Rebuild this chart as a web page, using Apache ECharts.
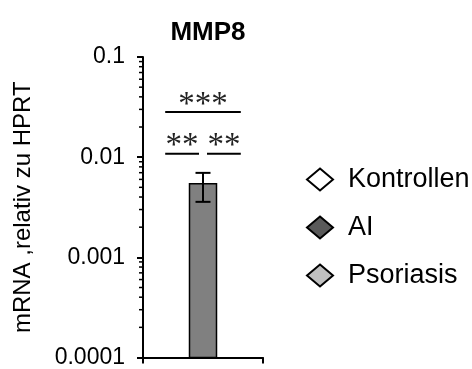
<!DOCTYPE html>
<html>
<head>
<meta charset="utf-8">
<script src="https://cdn.jsdelivr.net/npm/echarts@6/dist/echarts.min.js"></script>
<style>html,body{margin:0;padding:0;background:#fff}#c{width:472px;height:369px}</style>
</head>
<body>
<div id="c"></div>
<script>
// ---- data ----
var categories = [''];
var seriesNames = ['Kontrollen', 'AI', 'Psoriasis'];
var kontrollenValues = [null];
var aiValues = [0.00542];
var psoriasisValues = [null];
var aiErrLow = [0.00358];
var aiErrHigh = [0.00697];
var yTickLabels = ['0.0001', '0.001', '0.01', '0.1'];
var yTickValues = [0.0001, 0.001, 0.01, 0.1];
var minorTickValues = [0.0002,0.0003,0.0004,0.0005,0.0006,0.0007,0.0008,0.0009,
  0.002,0.003,0.004,0.005,0.006,0.007,0.008,0.009,
  0.02,0.03,0.04,0.05,0.06,0.07,0.08,0.09];
// significance brackets
var sigLabels = ['***', '**', '**'];
var sigFrom = [0, 0, 1];
var sigTo = [2, 1, 2];
var sigLineValues = [0.0283, 0.0108, 0.0108];

var Y_MIN = 0.0001, Y_MAX = 0.1;
var BAR_W = 27, BAR_GAP = 0.4;
var SPACING = BAR_W * (1 + BAR_GAP);
var FONT = 'Liberation Sans, Arial, sans-serif';
var barColors = ['#ffffff', '#808080', '#c0c0c0'];
var legendColors = ['#ffffff', '#5a5a5a', '#c0c0c0'];
var seriesValues = [kontrollenValues, aiValues, psoriasisValues];

var chart = echarts.init(document.getElementById('c'), null, {renderer: 'canvas'});

function barSeries(k) {
  return {
    type: 'custom', name: seriesNames[k], z: 2,
    itemStyle: {color: barColors[k], borderColor: '#000', borderWidth: 1.5},
    data: seriesValues[k].map(function (v, i) { return v == null ? [i, '-'] : [i, v]; }),
    renderItem: function (params, api) {
      var v = api.value(1);
      if (v == null || isNaN(v)) return null;
      var top = api.coord([api.value(0), v]);
      var base = api.coord([api.value(0), Y_MIN]);
      var cx = top[0] + (k - 1) * SPACING;
      return {type: 'rect',
        shape: {x: cx - BAR_W / 2, y: top[1], width: BAR_W, height: base[1] - top[1]},
        style: {fill: barColors[k], stroke: '#000', lineWidth: 1.5}};
    }
  };
}

var option = {
  animation: false,
  backgroundColor: '#fff',
  title: {
    text: 'MMP8', left: 203, top: 15, textAlign: 'center',
    textStyle: {fontFamily: FONT, fontWeight: 'bold', fontSize: 26, color: '#000'}
  },
  legend: {
    orient: 'vertical', left: 301, top: 161,
    itemWidth: 26, itemHeight: 22, itemGap: 21,
    icon: 'diamond',
    textStyle: {fontFamily: FONT, fontSize: 27, color: '#000', padding: [0, 0, 0, 10]},
    data: seriesNames.map(function (n, k) {
      return {name: n, itemStyle: {color: legendColors[k], borderColor: '#000', borderWidth: 2}};
    })
  },
  grid: {left: 143, top: 57, width: 120, height: 301},
  xAxis: {
    type: 'category', data: categories,
    axisLine: {lineStyle: {color: '#000', width: 2}},
    axisTick: {show: true, length: 6, lineStyle: {color: '#000', width: 2}},
    axisLabel: {show: false}
  },
  yAxis: {
    type: 'log', logBase: 10, min: Y_MIN, max: Y_MAX,
    name: 'mRNA ,relativ zu HPRT', nameLocation: 'middle', nameGap: 108,
    nameTextStyle: {fontFamily: FONT, fontSize: 24, color: '#000'},
    axisLine: {show: true, lineStyle: {color: '#000', width: 2}},
    axisTick: {show: true, length: 6, lineStyle: {color: '#000', width: 2}},
    splitLine: {show: false},
    axisLabel: {
      margin: 18, fontFamily: FONT, fontSize: 23, color: '#000',
      formatter: function (v) {
        for (var i = 0; i < yTickValues.length; i++) {
          if (Math.abs(Math.log10(v) - Math.log10(yTickValues[i])) < 1e-6) return yTickLabels[i];
        }
        return '';
      }
    }
  },
  series: [
    barSeries(0), barSeries(1), barSeries(2),
    {
      type: 'custom', name: 'err', silent: true, z: 5,
      data: aiValues.map(function (v, i) { return [i, aiErrLow[i], aiErrHigh[i]]; }),
      renderItem: function (params, api) {
        var lo = api.coord([api.value(0), api.value(1)]);
        var hi = api.coord([api.value(0), api.value(2)]);
        var x = lo[0], cw = 7.5;
        var st = {stroke: '#000', lineWidth: 2};
        return {type: 'group', children: [
          {type: 'line', shape: {x1: x, y1: lo[1], x2: x, y2: hi[1]}, style: st},
          {type: 'line', shape: {x1: x - cw, y1: lo[1], x2: x + cw, y2: lo[1]}, style: st},
          {type: 'line', shape: {x1: x - cw, y1: hi[1], x2: x + cw, y2: hi[1]}, style: st}
        ]};
      }
    },
    {
      type: 'custom', name: 'sig', silent: true, z: 5,
      data: sigLabels.map(function (l, i) { return [0, sigLineValues[i], i]; }),
      renderItem: function (params, api) {
        var idx = api.value(2);
        var p = api.coord([0, api.value(1)]);
        var cx = p[0];
        var from = sigFrom[idx], to = sigTo[idx];
        var x1 = cx + (from - 1) * SPACING;
        var x2 = cx + (to - 1) * SPACING;
        if ((to - from) === 1) {
          if (from === 0) x2 = cx - 4; else x1 = cx + 4;
        }
        return {type: 'group', children: [
          {type: 'line', shape: {x1: x1, y1: p[1], x2: x2, y2: p[1]}, style: {stroke: '#000', lineWidth: 2}},
          {type: 'text', x: (x1 + x2) / 2, y: p[1] - 7,
            style: {text: sigLabels[idx], fill: '#222', font: '33px "Liberation Serif", serif',
              textAlign: 'center', textVerticalAlign: 'middle'}}
        ]};
      }
    },
    {
      type: 'custom', name: 'minor', silent: true, z: 3,
      data: minorTickValues.map(function (v) { return [0, v]; }),
      renderItem: function (params, api) {
        var p = api.coord([0, api.value(1)]);
        var ax = params.coordSys.x;
        return {type: 'line', shape: {x1: ax - 4, y1: p[1], x2: ax, y2: p[1]}, style: {stroke: '#000', lineWidth: 1.5}};
      }
    }
  ]
};
chart.setOption(option);
</script>
</body>
</html>
